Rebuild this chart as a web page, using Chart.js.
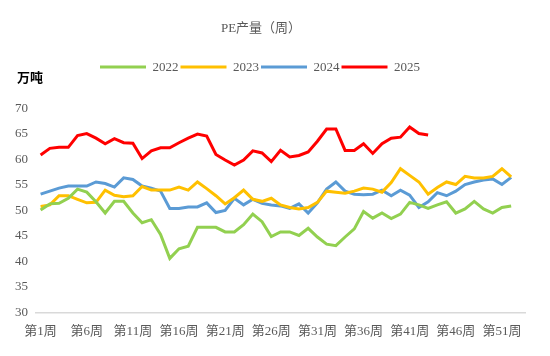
<!DOCTYPE html>
<html>
<head>
<meta charset="utf-8">
<script src="https://cdn.jsdelivr.net/npm/chart.js@4/dist/chart.umd.min.js"></script>
<style>
  html, body { margin: 0; padding: 0; background: #fff; }
  #wrap { width: 550px; height: 356px; position: relative; }
</style>
</head>
<body>
<div id="wrap"><canvas id="c"></canvas></div>
<script>
// ---- data ----
const weeks = [];
for (let i = 1; i <= 53; i++) weeks.push('第' + i + '周');
const shownWeeks = ['第1周','第6周','第11周','第16周','第21周','第26周','第31周','第36周','第41周','第46周','第51周'];
const seriesNames = ['2022', '2023', '2024', '2025'];
const y2022 = [50.1,51.3,51.4,52.4,54.2,53.6,51.7,49.5,51.8,51.8,
               49.5,47.6,48.2,45.3,40.6,42.5,43.0,46.7,46.7,46.7,
               45.8,45.8,47.2,49.3,47.8,44.9,45.8,45.8,45.1,46.5,
               44.8,43.4,43.1,44.8,46.4,49.8,48.5,49.5,48.4,49.3,
               51.6,51.1,50.4,51.1,51.7,49.5,50.3,51.8,50.3,49.5,50.6,50.9];
const y2023 = [50.8,51.1,52.9,52.9,52.2,51.5,51.6,54.0,53.0,52.7,
               52.9,54.7,54.0,54.0,54.0,54.6,54.0,55.6,54.3,52.9,
               51.3,52.5,54.0,52.2,51.8,52.4,51.1,50.6,50.3,50.6,
               51.6,53.8,53.6,53.4,53.8,54.4,54.2,53.6,55.5,58.2,
               56.9,55.6,53.2,54.5,55.6,55.1,56.7,56.4,56.4,56.7,58.2,56.6];
const y2024 = [53.2,53.8,54.4,54.8,54.8,54.8,55.6,55.3,54.6,56.4,
               56.1,54.8,54.4,53.8,50.4,50.4,50.7,50.7,51.5,49.6,
               50.0,52.4,51.1,52.2,51.4,51.1,50.9,50.4,51.3,49.5,
               51.5,54.2,55.6,53.8,53.2,53.1,53.2,54.0,52.9,54.0,
               53.0,50.6,51.7,53.5,52.9,53.8,55.1,55.6,56.0,56.2,55.1,56.5];
const y2025 = [60.9,62.2,62.4,62.4,64.7,65.1,64.2,63.1,64.1,63.3,
               63.2,60.2,61.7,62.3,62.3,63.3,64.2,65.0,64.6,61.0,
               59.9,58.9,59.9,61.7,61.3,59.6,61.8,60.5,60.8,61.5,
               63.6,66.0,66.0,61.8,61.8,63.1,61.2,63.1,64.2,64.4,
               66.4,65.1,64.8];
const yTicks = [30,35,40,45,50,55,60,65,70];
const colors = ['#92D050', '#FFC000', '#5B9BD5', '#FF0000'];
const values = [y2022, y2023, y2024, y2025];

const SERIF = '"Liberation Serif", "Noto Sans CJK SC", serif';
const GRAY = '#595959';

const unitPlugin = {
  id: 'unitLabel',
  afterDraw(chart) {
    const ctx = chart.ctx;
    ctx.save();
    ctx.font = 'bold 13px "Noto Sans CJK SC", sans-serif';
    ctx.fillStyle = '#000';
    ctx.textAlign = 'left';
    ctx.textBaseline = 'middle';
    ctx.fillText('万吨', 17, 77);
    ctx.restore();
  }
};
const layoutTweak = {
  id: 'layoutTweak',
  beforeInit(chart) {
    const lg = chart.legend;
    const orig = lg.fit;
    lg.fit = function () { orig.call(this); this.height += 25; };
  },
  afterLayout(chart) {
    if (chart.titleBlock) { chart.titleBlock.left = 0; chart.titleBlock.right = 522; }
    if (chart.legend) { chart.legend.left = 0; chart.legend.right = 520; }
  }
};

new Chart(document.getElementById('c'), {
  type: 'line',
  data: {
    labels: weeks,
    datasets: seriesNames.map((n, i) => ({
      label: n,
      data: values[i],
      borderColor: colors[i],
      backgroundColor: colors[i],
      borderWidth: 3,
      pointRadius: 0,
      pointHoverRadius: 0,
      tension: 0,
      fill: false
    }))
  },
  options: {
    responsive: true,
    maintainAspectRatio: false,
    animation: false,
    layout: { padding: { left: 7, right: 25, top: 0, bottom: 6 } },
    plugins: {
      title: {
        display: true,
        text: 'PE产量（周）',
        color: GRAY,
        font: { family: SERIF, size: 13, weight: 'normal' },
        padding: { top: 21, bottom: 22 }
      },
      legend: {
        display: true,
        position: 'top',
        labels: {
          usePointStyle: true,
          pointStyle: 'line',
          pointStyleWidth: 46,
          color: GRAY,
          font: { family: SERIF, size: 13 },
          padding: 2
        }
      },
      tooltip: { enabled: false }
    },
    scales: {
      x: {
        type: 'category',
        offset: true,
        grid: { display: false, drawTicks: false },
        border: { display: true, color: '#D9D9D9', width: 1.5 },
        ticks: {
          autoSkip: false,
          maxRotation: 0,
          minRotation: 0,
          padding: 11,
          color: GRAY,
          font: { family: SERIF, size: 13 },
          callback: function (v, i) {
            const l = weeks[i];
            return shownWeeks.includes(l) ? l : '';
          }
        }
      },
      y: {
        min: 30,
        max: 70,
        afterBuildTicks: (s) => { s.ticks = yTicks.map(v => ({ value: v })); },
        grid: { display: false, drawTicks: false },
        border: { display: false },
        ticks: {
          padding: 8,
          color: GRAY,
          font: { family: SERIF, size: 13 }
        }
      }
    }
  },
  plugins: [unitPlugin, layoutTweak]
});
</script>
</body>
</html>
